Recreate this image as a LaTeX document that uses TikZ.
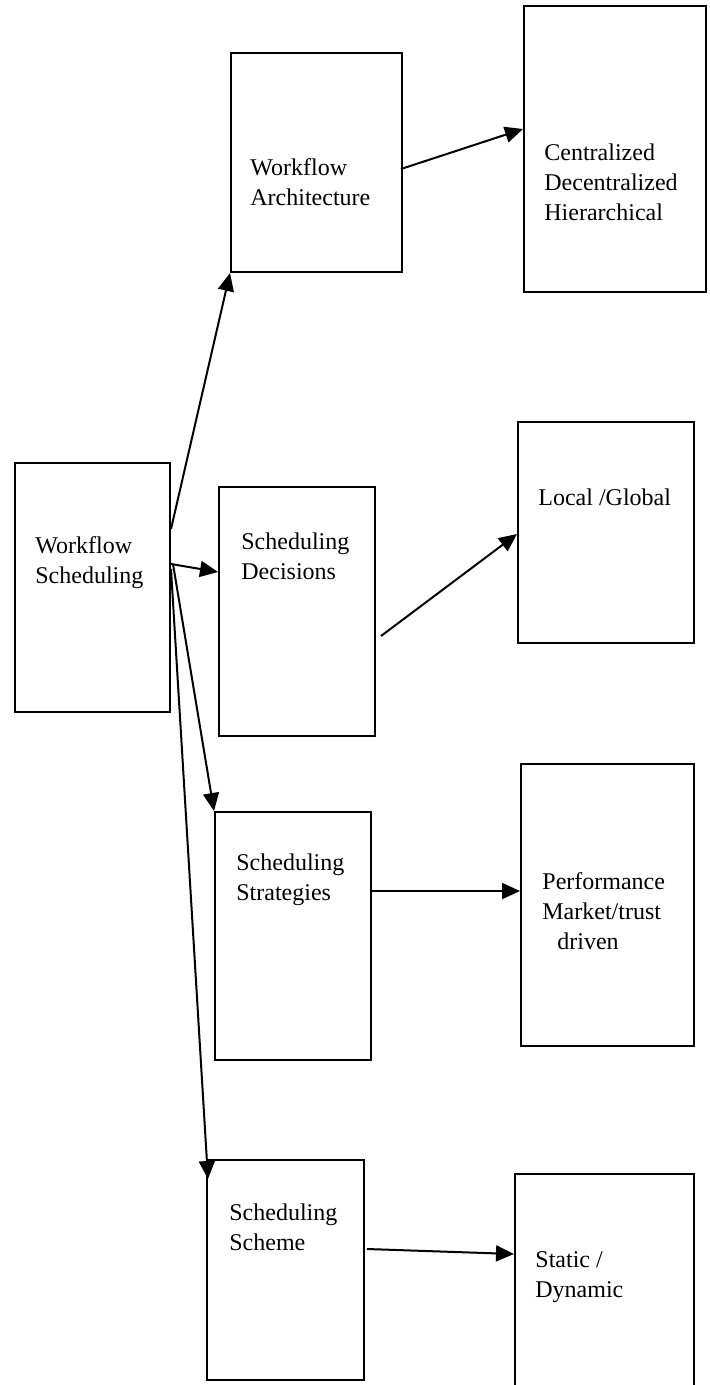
\documentclass[tikz,border=0pt]{standalone}
\usepackage{fontspec}
\setmainfont{Liberation Serif}
\usetikzlibrary{arrows.meta,positioning,fit,calc}

\begin{document}
\begin{tikzpicture}[x=0.5pt,y=-0.5pt,
   box/.style={draw,line width=1pt,inner sep=0pt},
   txt/.style={anchor=north west,inner sep=0pt,align=left,
               font=\fontsize{12}{15}\selectfont},
   link/.style={line width=1pt,-{Triangle[length=9pt,width=8pt]}}]
   \useasboundingbox (0,0) rectangle (709,1385);

   % middle column
   \node [box,fit={(15,463) (170,712)}] (WS) {};
   \node [box,fit={(231,53) (402,272)}] (WA) {};
   \node [box,fit={(219,487) (375,736)}] (SD) {};
   \node [box,fit={(215,812) (371,1060)}] (SS) {};
   \node [box,fit={(207,1160) (364,1380)}] (SC) {};

   % right column (last one runs off the page)
   \node [box,fit={(524,6) (706,292)}] (CD) {};
   \node [box,fit={(518,422) (694,643)}] (LG) {};
   \node [box,fit={(521,764) (694,1046)}] (PM) {};
   \node [box,fit={(515,1174) (694,1400)}] (ST) {};

   \node [txt] (WS_t) at (35,536) {Workflow\\Scheduling};
   \node [txt] (WA_t) at (250,158) {Workflow\\Architecture};
   \node [txt] (SD_t) at (241,532) {Scheduling\\Decisions};
   \node [txt] (SS_t) at (236,853) {Scheduling\\Strategies};
   \node [txt] (SC_t) at (229,1203) {Scheduling\\Scheme};
   \node [txt] (CD_t) at (544,143) {Centralized\\Decentralized\\Hierarchical};
   \node [txt] (LG_t) at (538,488) {Local /Global};
   \node [txt] (PM_t) at (542,872) {Performance\\Market/trust\\\hspace*{7.5pt}driven};
   \node [txt] (ST_t) at (535,1251) {Static /\\Dynamic};

   \path[link]
    ($(WS.north east)+(0,67)$)  edge (WA.south west)
    ($(WS.north east)+(0,102)$) edge ($(SD.north west)+(0,86)$)
    ($(WS.north east)+(2,102)$) edge (SS.north west)
    ($(WS.north east)+(0,107)$) edge ($(SC.north west)+(2,20)$)
    ($(WA.north east)+(-2,117)$) edge ($(CD.north west)+(0,124)$)
    ($(SD.north east)+(5,150)$) edge ($(LG.north west)+(0,113)$)
    ($(SS.north east)+(0,80)$)  edge ($(PM.north west)+(0,128)$)
    ($(SC.north east)+(2,90)$)  edge ($(ST.north west)+(0,81)$);
\end{tikzpicture}
\end{document}
